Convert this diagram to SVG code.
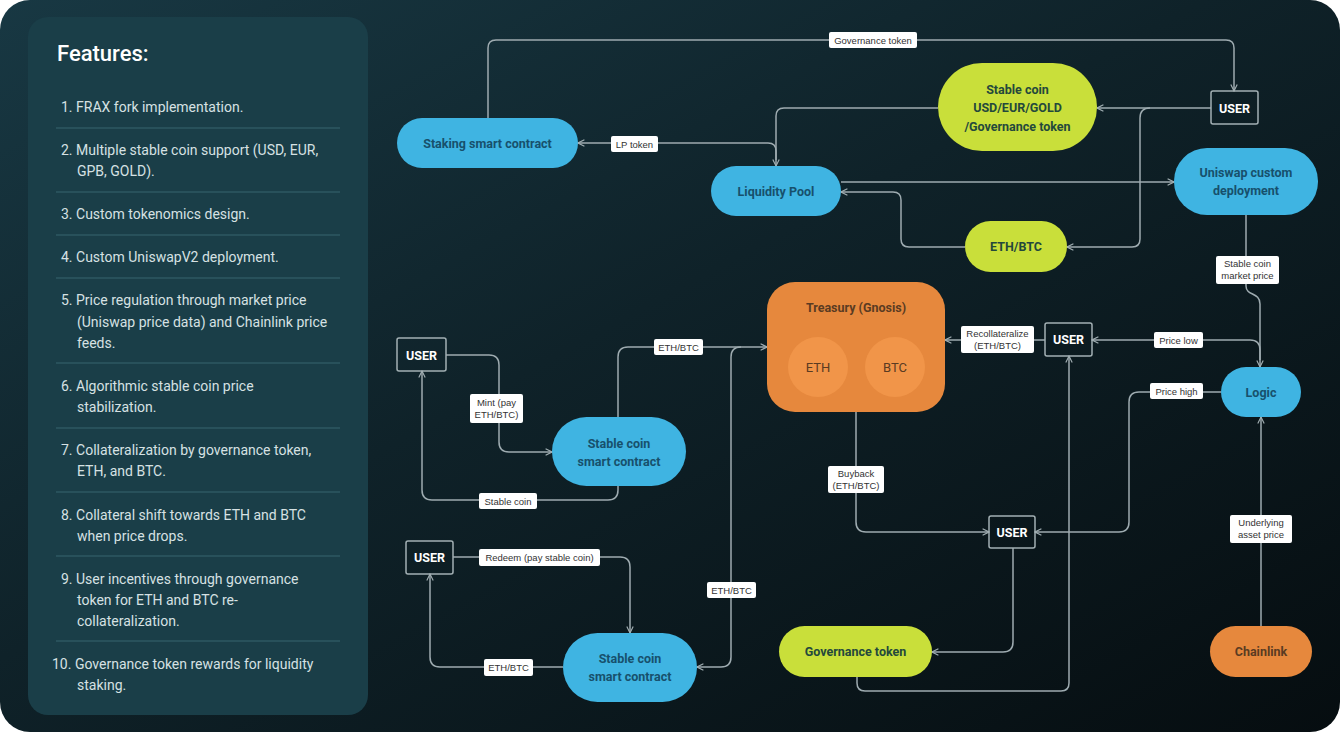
<svg xmlns="http://www.w3.org/2000/svg" width="1340" height="732" viewBox="0 0 1340 732">
<defs>
<linearGradient id="bg" x1="0" y1="0" x2="1" y2="1">
<stop offset="0" stop-color="#183843"/>
<stop offset="0.45" stop-color="#0f2229"/>
<stop offset="1" stop-color="#060d10"/>
</linearGradient>
<marker id="arr" viewBox="0 0 10 10" refX="9" refY="5" markerWidth="8" markerHeight="10" markerUnits="userSpaceOnUse" orient="auto">
<path d="M1,1 L9,5 L1,9" fill="none" stroke="#a3b0b4" stroke-width="1.4"/>
</marker>
<style>
.sep{stroke:#2e5862;stroke-width:1.5}
.ft{font-family:Roboto,"Noto Sans",sans-serif;font-size:14px;fill:#d6e1e3}
.ttl{font-family:Roboto,"Noto Sans",sans-serif;font-size:22px;fill:#ffffff;font-weight:500}
.blue{fill:#3fb4e2}
.green{fill:#c9df3a}
.orange{fill:#e6883d}
.nt{font-family:Roboto,"Noto Sans",sans-serif;font-size:12.5px;font-weight:700;text-anchor:middle}
.bt{fill:#17506c}
.gt{fill:#24483c}
.ot{fill:#5a3b22}
.user rect{fill:none;stroke:#a3b0b4;stroke-width:1.5}
.user text{font-family:Roboto,"Noto Sans",sans-serif;font-size:12.5px;font-weight:700;fill:#ffffff;text-anchor:middle}
.c path{fill:none;stroke:#9eabb0;stroke-width:1.5;marker-end:url(#arr)}
.c path.nm{marker-end:none}
.lb rect{fill:#ffffff}
.lb text{font-family:"Liberation Sans",Arial,sans-serif;font-size:9.5px;fill:#333333;text-anchor:middle}
</style>
</defs>
<rect x="0" y="0" width="1340" height="732" fill="#ffffff"/>
<rect x="0" y="0" width="1340" height="732" rx="30" fill="url(#bg)"/>

<g id="features">
<rect x="28" y="17" width="340" height="698" rx="20" fill="#1a3e48"/>
<text class="ttl" x="57" y="61">Features:</text>
<text class="ft"><tspan x="61" y="112">1. FRAX fork implementation.</tspan></text>
<line class="sep" x1="56" y1="128" x2="340" y2="128"/>
<text class="ft"><tspan x="61" y="155">2. Multiple stable coin support (USD, EUR,</tspan><tspan x="77" y="176">GPB, GOLD).</tspan></text>
<line class="sep" x1="56" y1="192" x2="340" y2="192"/>
<text class="ft"><tspan x="61" y="219">3. Custom tokenomics design.</tspan></text>
<line class="sep" x1="56" y1="235" x2="340" y2="235"/>
<text class="ft"><tspan x="61" y="262">4. Custom UniswapV2 deployment.</tspan></text>
<line class="sep" x1="56" y1="278" x2="340" y2="278"/>
<text class="ft"><tspan x="61" y="305">5. Price regulation through market price</tspan><tspan x="77" y="327">(Uniswap price data) and Chainlink price</tspan><tspan x="77" y="348">feeds.</tspan></text>
<line class="sep" x1="56" y1="363" x2="340" y2="363"/>
<text class="ft"><tspan x="61" y="391">6. Algorithmic stable coin price</tspan><tspan x="77" y="412">stabilization.</tspan></text>
<line class="sep" x1="56" y1="428" x2="340" y2="428"/>
<text class="ft"><tspan x="61" y="455">7. Collateralization by governance token,</tspan><tspan x="77" y="476">ETH, and BTC.</tspan></text>
<line class="sep" x1="56" y1="492" x2="340" y2="492"/>
<text class="ft"><tspan x="61" y="520">8. Collateral shift towards ETH and BTC</tspan><tspan x="77" y="541">when price drops.</tspan></text>
<line class="sep" x1="56" y1="556" x2="340" y2="556"/>
<text class="ft"><tspan x="61" y="584">9. User incentives through governance</tspan><tspan x="77" y="605">token for ETH and BTC re-</tspan><tspan x="77" y="626">collateralization.</tspan></text>
<line class="sep" x1="56" y1="641" x2="340" y2="641"/>
<text class="ft"><tspan x="52" y="669">10. Governance token rewards for liquidity</tspan><tspan x="77" y="690">staking.</tspan></text>
</g>

<g class="c" id="connectors">
<path d="M488,118 V48 Q488,40 496,40 H1226 Q1234,40 1234,48 V91"/>
<path d="M1211,108 H1097"/>
<path d="M1150,108 Q1140,108 1140,118 V239 Q1140,247 1132,247 H1067"/>
<path d="M938,108 H784 Q776,108 776,116 V166"/>
<path d="M776,160 V151 Q776,143 768,143 H578"/>
<path d="M841,182 H1174"/>
<path d="M965,247 H909 Q901,247 901,239 V200 Q901,192 893,192 H841"/>
<path d="M1246,215 V286 C1246,296 1260,292 1260,304 V367"/>
<path d="M1260,360 V350 Q1260,340 1250,340 H1092"/>
<path d="M1045,340 H945"/>
<path d="M618,417 V357 Q618,347 628,347 H767"/>
<path d="M741,347 Q731,347 731,357 V657 Q731,667 721,667 H697"/>
<path d="M446,355 H489 Q499,355 499,365 V442 Q499,452 509,452 H552"/>
<path d="M618,486 V490 Q618,500 608,500 H432 Q422,500 422,490 V371"/>
<path d="M453,557 H620 Q630,557 630,567 V633"/>
<path d="M563,667 H440 Q430,667 430,657 V574"/>
<path d="M856,412 V522 Q856,532 866,532 H989"/>
<path d="M1221,392 H1139 Q1129,392 1129,402 V522 Q1129,532 1119,532 H1035"/>
<path d="M1261,626 V417"/>
<path d="M1013,548 V642 Q1013,652 1003,652 H932"/>
<path d="M857,677 V683 Q857,691 865,691 H1061 Q1069,691 1069,683 V356"/>
</g>

<g id="labels" class="lb">
<g><rect x="829" y="32" width="88" height="16" rx="2"/><text x="873" y="43.5">Governance token</text></g>
<g><rect x="611" y="136" width="47" height="16" rx="2"/><text x="634.5" y="147.5">LP token</text></g>
<g><rect x="1216" y="256" width="63" height="28" rx="2"/><text x="1247.5" y="267">Stable coin</text><text x="1247.5" y="279">market price</text></g>
<g><rect x="1154" y="332" width="49" height="16" rx="2"/><text x="1178.5" y="343.5">Price low</text></g>
<g><rect x="961" y="326" width="73" height="27" rx="2"/><text x="997.5" y="337">Recollateralize</text><text x="997.5" y="349">(ETH/BTC)</text></g>
<g><rect x="654" y="339" width="49" height="16" rx="2"/><text x="678.5" y="350.5">ETH/BTC</text></g>
<g><rect x="707" y="582" width="49" height="16" rx="2"/><text x="731.5" y="593.5">ETH/BTC</text></g>
<g><rect x="470" y="394" width="53" height="29" rx="2"/><text x="496.5" y="406">Mint (pay</text><text x="496.5" y="418">ETH/BTC)</text></g>
<g><rect x="479" y="493" width="58" height="16" rx="2"/><text x="508" y="504.5">Stable coin</text></g>
<g><rect x="479" y="549" width="121" height="17" rx="2"/><text x="539.5" y="561">Redeem (pay stable coin)</text></g>
<g><rect x="484" y="659" width="49" height="17" rx="2"/><text x="508.5" y="671">ETH/BTC</text></g>
<g><rect x="828" y="466" width="56" height="27" rx="2"/><text x="856" y="477">Buyback</text><text x="856" y="489">(ETH/BTC)</text></g>
<g><rect x="1150" y="383" width="53" height="16" rx="2"/><text x="1176.5" y="394.5">Price high</text></g>
<g><rect x="1230" y="515" width="62" height="28" rx="2"/><text x="1261" y="526">Underlying</text><text x="1261" y="538">asset price</text></g>
</g>

<g id="staking"><rect class="blue" x="397" y="118" width="181" height="50" rx="25"/><text class="nt bt" x="487.5" y="147.5">Staking smart contract</text></g>
<g id="liquidity-pool"><rect class="blue" x="711" y="166" width="130" height="50" rx="25"/><text class="nt bt" x="776" y="195.5">Liquidity Pool</text></g>
<g id="stable-coin"><rect class="green" x="938" y="63" width="159" height="88" rx="44"/><text class="nt gt" x="1017.5" y="93.5">Stable coin</text><text class="nt gt" x="1017.5" y="111.5">USD/EUR/GOLD</text><text class="nt gt" x="1017.5" y="130.5">/Governance token</text></g>
<g id="eth-btc"><rect class="green" x="965" y="221" width="102" height="51" rx="25.5"/><text class="nt gt" x="1016" y="250.5">ETH/BTC</text></g>
<g id="uniswap"><rect class="blue" x="1174" y="148" width="144" height="67" rx="33"/><text class="nt bt" x="1246" y="176.5">Uniswap custom</text><text class="nt bt" x="1246" y="194.5">deployment</text></g>
<g id="user1" class="user"><rect x="1211" y="91" width="47" height="33" rx="2"/><text x="1234.5" y="112.5">USER</text></g>
<g id="treasury"><rect class="orange" x="767" y="282" width="178" height="130" rx="28"/><text class="nt ot" x="856" y="312">Treasury (Gnosis)</text><circle cx="818" cy="367" r="30" fill="#f19549"/><circle cx="895" cy="367" r="30" fill="#f19549"/><text class="nt ot" style="font-weight:400;font-size:13px" x="818" y="371.5">ETH</text><text class="nt ot" style="font-weight:400;font-size:13px" x="895" y="371.5">BTC</text></g>
<g id="user2" class="user"><rect x="1045" y="323" width="47" height="33" rx="2"/><text x="1068.5" y="344">USER</text></g>
<g id="logic"><rect class="blue" x="1221" y="367" width="80" height="50" rx="25"/><text class="nt bt" x="1261" y="396.5">Logic</text></g>
<g id="user3" class="user"><rect x="397" y="338" width="49" height="33" rx="2"/><text x="421.5" y="359.5">USER</text></g>
<g id="sc1"><rect class="blue" x="552" y="417" width="134" height="69" rx="34.5"/><text class="nt bt" x="619" y="447.5">Stable coin</text><text class="nt bt" x="619" y="465.5">smart contract</text></g>
<g id="user4" class="user"><rect x="406" y="541" width="47" height="33" rx="2"/><text x="429.5" y="562">USER</text></g>
<g id="sc2"><rect class="blue" x="563" y="633" width="134" height="69" rx="34.5"/><text class="nt bt" x="630" y="662.5">Stable coin</text><text class="nt bt" x="630" y="680.5">smart contract</text></g>
<g id="user5" class="user"><rect x="989" y="516" width="46" height="32" rx="2"/><text x="1012" y="536.5">USER</text></g>
<g id="gov-token"><rect class="green" x="779" y="626" width="153" height="51" rx="25.5"/><text class="nt gt" x="855.5" y="655.5">Governance token</text></g>
<g id="chainlink"><rect class="orange" x="1210" y="626" width="102" height="51" rx="25.5"/><text class="nt ot" x="1261" y="655.5">Chainlink</text></g>
</svg>
